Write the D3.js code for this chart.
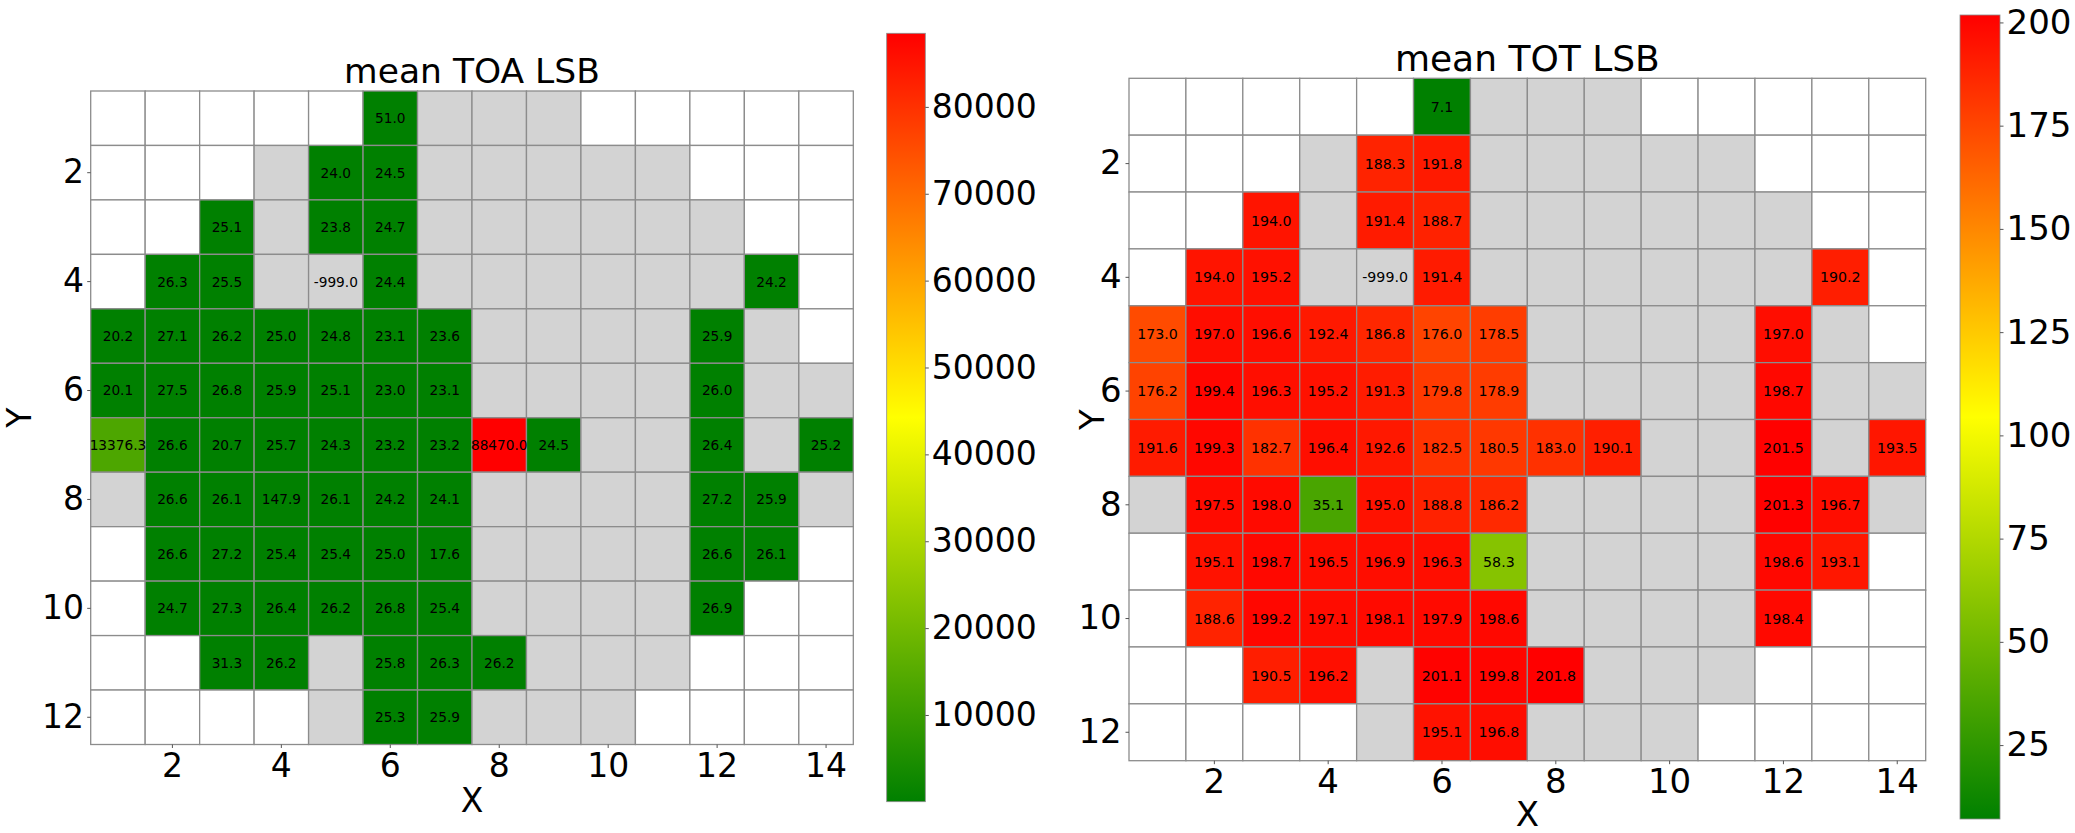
<!DOCTYPE html>
<html>
<head>
<meta charset="utf-8">
<script src="https://cdn.jsdelivr.net/npm/d3@7/dist/d3.min.js"></script>
<style>
  body { margin: 0; background: #fff; }
  text { font-family: "DejaVu Sans", sans-serif; }
</style>
</head>
<body>
<svg id="chart" width="2075" height="833"></svg>
<script>
// pixel columns / rows of the sensor
var xCols = [1, 2, 3, 4, 5, 6, 7, 8, 9, 10, 11, 12, 13, 14];
var yRows = [1, 2, 3, 4, 5, 6, 7, 8, 9, 10, 11, 12];

// _ = no data (white), M = masked pixel (grey)
var _ = null, M = "m";

var toaRows = [
  [_, _, _, _, _, 51.0, M, M, M, _, _, _, _, _],
  [_, _, _, M, 24.0, 24.5, M, M, M, M, M, _, _, _],
  [_, _, 25.1, M, 23.8, 24.7, M, M, M, M, M, M, _, _],
  [_, 26.3, 25.5, M, -999.0, 24.4, M, M, M, M, M, M, 24.2, _],
  [20.2, 27.1, 26.2, 25.0, 24.8, 23.1, 23.6, M, M, M, M, 25.9, M, _],
  [20.1, 27.5, 26.8, 25.9, 25.1, 23.0, 23.1, M, M, M, M, 26.0, M, M],
  [13376.3, 26.6, 20.7, 25.7, 24.3, 23.2, 23.2, 88470.0, 24.5, M, M, 26.4, M, 25.2],
  [M, 26.6, 26.1, 147.9, 26.1, 24.2, 24.1, M, M, M, M, 27.2, 25.9, M],
  [_, 26.6, 27.2, 25.4, 25.4, 25.0, 17.6, M, M, M, M, 26.6, 26.1, _],
  [_, 24.7, 27.3, 26.4, 26.2, 26.8, 25.4, M, M, M, M, 26.9, _, _],
  [_, _, 31.3, 26.2, M, 25.8, 26.3, 26.2, M, M, M, _, _, _],
  [_, _, _, _, M, 25.3, 25.9, M, M, M, _, _, _, _]
];

var totRows = [
  [_, _, _, _, _, 7.1, M, M, M, _, _, _, _, _],
  [_, _, _, M, 188.3, 191.8, M, M, M, M, M, _, _, _],
  [_, _, 194.0, M, 191.4, 188.7, M, M, M, M, M, M, _, _],
  [_, 194.0, 195.2, M, -999.0, 191.4, M, M, M, M, M, M, 190.2, _],
  [173.0, 197.0, 196.6, 192.4, 186.8, 176.0, 178.5, M, M, M, M, 197.0, M, _],
  [176.2, 199.4, 196.3, 195.2, 191.3, 179.8, 178.9, M, M, M, M, 198.7, M, M],
  [191.6, 199.3, 182.7, 196.4, 192.6, 182.5, 180.5, 183.0, 190.1, M, M, 201.5, M, 193.5],
  [M, 197.5, 198.0, 35.1, 195.0, 188.8, 186.2, M, M, M, M, 201.3, 196.7, M],
  [_, 195.1, 198.7, 196.5, 196.9, 196.3, 58.3, M, M, M, M, 198.6, 193.1, _],
  [_, 188.6, 199.2, 197.1, 198.1, 197.9, 198.6, M, M, M, M, 198.4, _, _],
  [_, _, 190.5, 196.2, M, 201.1, 199.8, 201.8, M, M, M, _, _, _],
  [_, _, _, _, M, 195.1, 196.8, M, M, M, _, _, _, _]
];

var axisTicks = [2, 4, 6, 8, 10, 12, 14];
var toaCbTicks = [10000, 20000, 30000, 40000, 50000, 60000, 70000, 80000];
var totCbTicks = [25, 50, 75, 100, 125, 150, 175, 200];

var svg = d3.select("#chart");
svg.append("rect").attr("width", 2075).attr("height", 833).attr("fill", "#fff");
var defs = svg.append("defs");

var grad = defs.append("linearGradient")
  .attr("id", "gyr")
  .attr("x1", "0%").attr("y1", "100%")
  .attr("x2", "0%").attr("y2", "0%");
grad.append("stop").attr("offset", "0%").style("stop-color", "#008000");
grad.append("stop").attr("offset", "50%").style("stop-color", "#ffff00");
grad.append("stop").attr("offset", "100%").style("stop-color", "#ff0000");

// plain hyphen for negatives, like the original
function fmt(v) { return v.toFixed(1); }

function drawPanel(rows, title, cbTicks, L) {
  var cells = [];
  rows.forEach(function (r, i) {
    r.forEach(function (v, j) {
      cells.push({ x: xCols[j], y: yRows[i], v: v });
    });
  });
  var vals = cells.filter(function (d) { return typeof d.v === "number" && d.v > -999; })
    .map(function (d) { return d.v; });
  var ext = d3.extent(vals);
  var color = d3.scaleLinear()
    .domain([ext[0], (ext[0] + ext[1]) / 2, ext[1]])
    .range(["#008000", "#ffff00", "#ff0000"]);

  var x = d3.scaleBand().domain(xCols).range([L.x0, L.x1]);
  var y = d3.scaleBand().domain(yRows).range([L.y0, L.y1]);

  var g = svg.append("g");

  g.selectAll(".cell")
    .data(cells)
    .enter()
    .append("rect")
    .attr("class", "cell")
    .attr("x", function (d) { return x(d.x); })
    .attr("y", function (d) { return y(d.y); })
    .attr("width", x.bandwidth())
    .attr("height", y.bandwidth())
    .attr("fill", function (d) {
      if (d.v === null) return "#ffffff";
      if (d.v === M || d.v < ext[0]) return "#d3d3d3";
      return color(d.v);
    })
    .attr("stroke", "#8c8c8c")
    .attr("stroke-width", 1.3);

  g.selectAll(".lbl")
    .data(cells.filter(function (d) { return typeof d.v === "number"; }))
    .enter()
    .append("text")
    .attr("class", "lbl")
    .attr("x", function (d) { return x(d.x) + x.bandwidth() / 2; })
    .attr("y", function (d) { return y(d.y) + y.bandwidth() / 2; })
    .attr("dy", "0.36em")
    .attr("text-anchor", "middle")
    .style("font-size", L.cellFs + "px")
    .style("fill", "#000")
    .text(function (d) { return fmt(d.v); });

  // axes
  var ax = g.append("g")
    .attr("transform", "translate(0," + L.y1 + ")")
    .call(d3.axisBottom(x).tickValues(axisTicks).tickSize(3.5).tickPadding(L.xPad));
  ax.select(".domain").remove();
  ax.selectAll("line").attr("stroke", "#555");
  ax.selectAll("text").style("font-size", L.tickFs + "px").attr("fill", "#000");

  var ay = g.append("g")
    .attr("transform", "translate(" + L.x0 + ",0)")
    .call(d3.axisLeft(y).tickValues(axisTicks.slice(0, 6)).tickSize(3.5).tickPadding(L.yPad));
  ay.select(".domain").remove();
  ay.selectAll("line").attr("stroke", "#555");
  ay.selectAll("text").style("font-size", L.tickFs + "px").attr("fill", "#000");

  g.append("text")
    .attr("x", (L.x0 + L.x1) / 2)
    .attr("y", L.titleY)
    .attr("text-anchor", "middle")
    .style("font-size", L.titleFs + "px")
    .text(title);

  g.append("text")
    .attr("x", (L.x0 + L.x1) / 2)
    .attr("y", L.xLabY)
    .attr("text-anchor", "middle")
    .style("font-size", L.labFs + "px")
    .text("X");

  g.append("text")
    .attr("transform", "translate(" + L.yLabX + "," + (L.y0 + L.y1) / 2 + ") rotate(-90)")
    .attr("dy", "0.36em")
    .attr("text-anchor", "middle")
    .style("font-size", L.labFs + "px")
    .text("Y");

  // colorbar
  g.append("rect")
    .attr("x", L.cbX0)
    .attr("y", L.cbY0)
    .attr("width", L.cbX1 - L.cbX0)
    .attr("height", L.cbY1 - L.cbY0)
    .attr("fill", "url(#gyr)")
    .attr("stroke", "#8c8c8c")
    .attr("stroke-width", 0.8);

  var cb = d3.scaleLinear().domain(ext).range([L.cbY1, L.cbY0]);
  var acb = g.append("g")
    .attr("transform", "translate(" + L.cbX1 + ",0)")
    .call(d3.axisRight(cb).tickValues(cbTicks).tickSize(3.5).tickPadding(3).tickFormat(d3.format("d")));
  acb.select(".domain").remove();
  acb.selectAll("line").attr("stroke", "#555");
  acb.selectAll("text").style("font-size", L.cbFs + "px").attr("fill", "#000");
}

drawPanel(toaRows, "mean TOA LSB", toaCbTicks, {
  x0: 90.7, x1: 853.3, y0: 91, y1: 744.5,
  titleY: 83.3, titleFs: 34.5, xLabY: 811.7, yLabX: 19, labFs: 33,
  tickFs: 33, xPad: 5.3, yPad: 3.2, cellFs: 13.7,
  cbX0: 886.7, cbX1: 925.3, cbY0: 33.3, cbY1: 801.7, cbFs: 33
});

drawPanel(totRows, "mean TOT LSB", totCbTicks, {
  x0: 1129, x1: 1925.7, y0: 78.3, y1: 760.7,
  titleY: 70.7, titleFs: 36, xLabY: 826, yLabX: 1092, labFs: 34,
  tickFs: 34, xPad: 4.7, yPad: 3.8, cellFs: 14.2,
  cbX0: 1960, cbX1: 2000, cbY0: 15, cbY1: 819, cbFs: 34
});
</script>
</body>
</html>
